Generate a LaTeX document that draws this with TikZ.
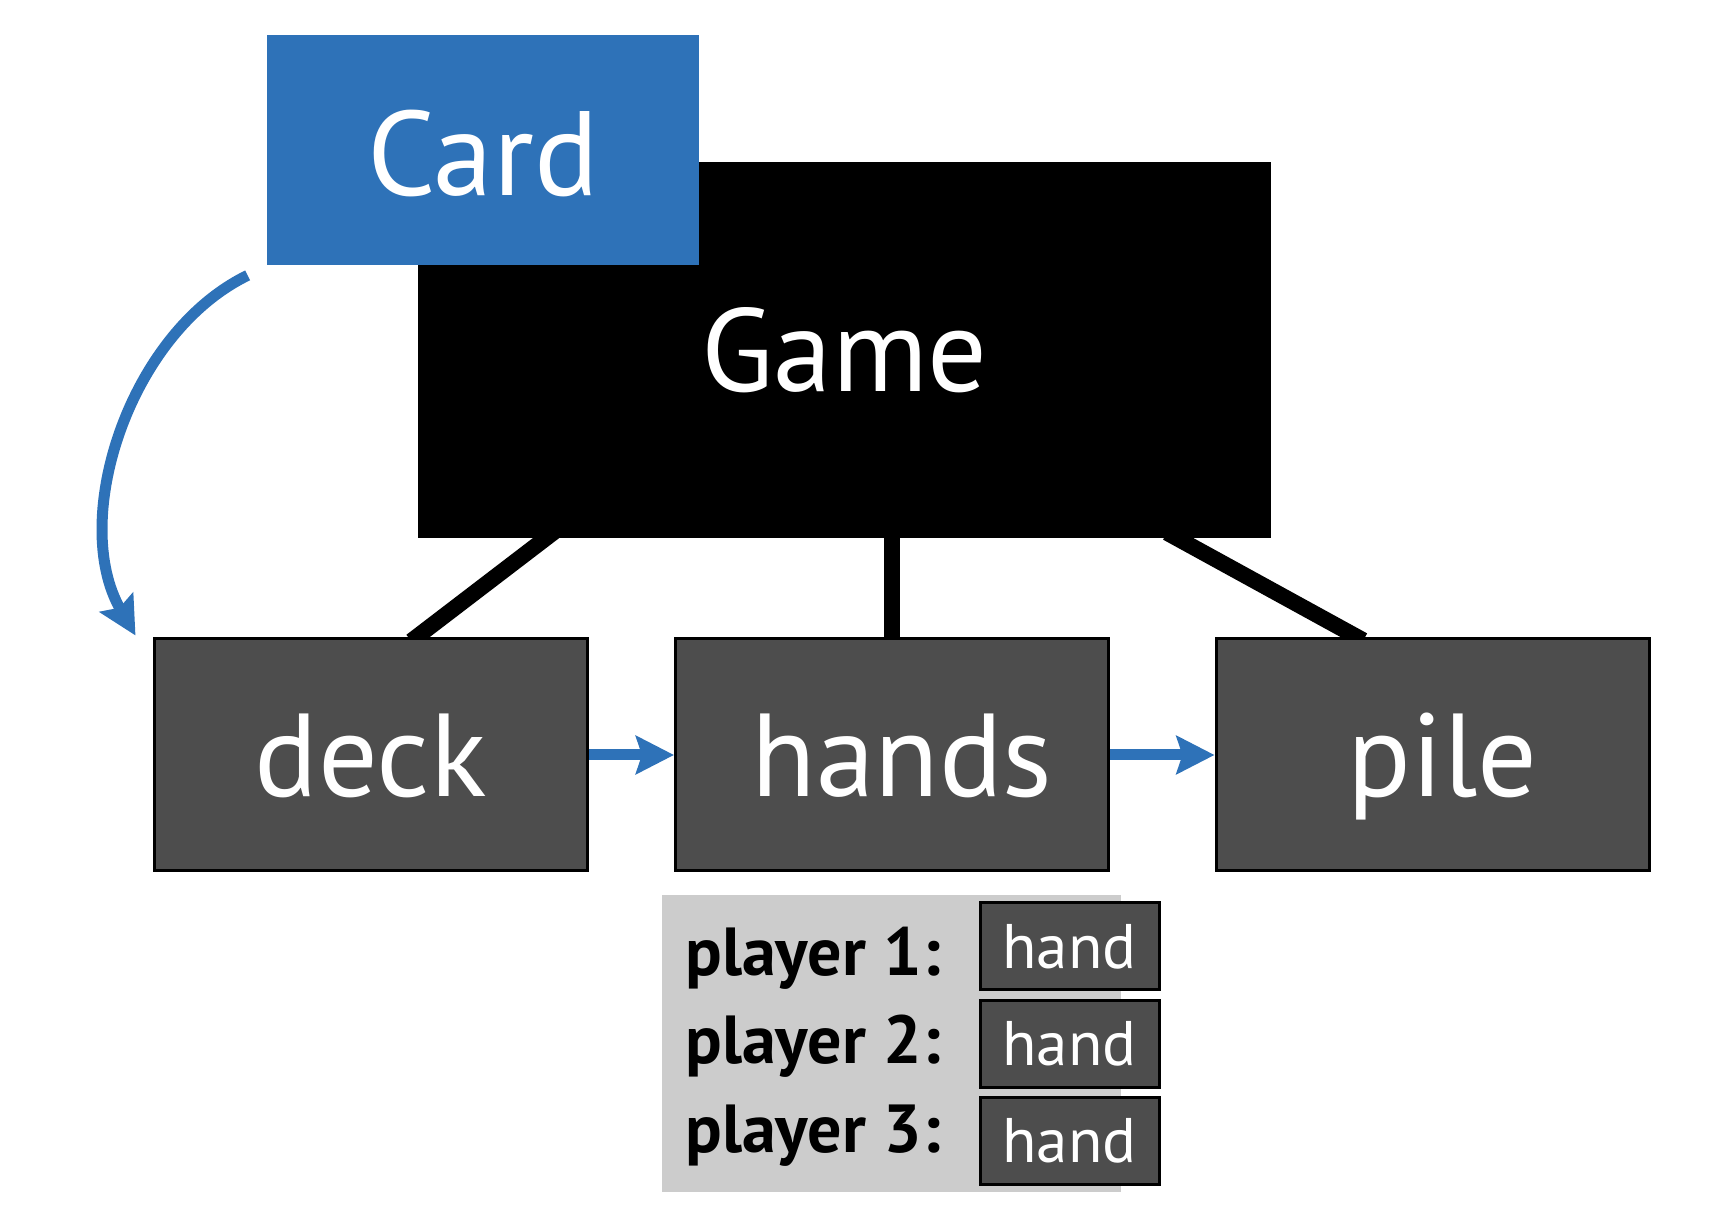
\documentclass[tikz,border=0pt]{standalone}
\usepackage{fontspec}
\setmainfont{PT Sans}
\usetikzlibrary{arrows.meta,calc,backgrounds}
\definecolor{cardblue}{RGB}{46,114,184}
\definecolor{boxgray}{RGB}{77,77,77}
\definecolor{rostergray}{RGB}{204,204,204}
\tikzset{
  field/.style={draw=black, line width=1.5pt, fill=boxgray, text=white, inner sep=0pt,
    minimum width=216.5pt, minimum height=116pt, text depth=0pt,
    font=\fontsize{59}{60}\selectfont},
  handbox/.style={draw=black, line width=1.5pt, fill=boxgray, text=white, inner sep=0pt,
    minimum width=89.5pt, minimum height=43.5pt, font=\fontsize{31.5}{33}\selectfont},
  player/.style={anchor=base west, inner sep=0pt, font=\bfseries\fontsize{34}{36}\selectfont},
  link/.style={line width=8pt, shorten <=-6pt, shorten >=-3pt},
  flow/.style={cardblue, line width=5.5pt, -{Stealth[length=19pt, width=19pt, inset=3pt]}}
}
\begin{document}
\begin{tikzpicture}[x=0.5pt, y=0.5pt]
\useasboundingbox (0,0) rectangle (1724,1216);
% classes
\node[fill=black, text=white, inner sep=0pt, minimum width=426.5pt, minimum height=188pt,
  font=\fontsize{59}{60}\selectfont] (game) at (844.5,866) {Game};
\node[fill=cardblue, text=white, inner sep=0pt, minimum width=216pt, minimum height=115pt,
  text height=46pt, font=\fontsize{60}{62}\selectfont] (card) at (483,1066) {Card};
% fields
\node[field] (deck) at (370.5,461) {deck};
\node[field] (hands) at (892,461) {\hspace{10pt}hands};
\node[field] (pile) at (1432.5,461) {\hspace{10pt}pile};
\begin{scope}[on background layer]
\draw[link] ($(game.south west)+(128,0)$) -- ($(deck.north)+(45.5,0)$);
\draw[link] (hands.north |- game.south) -- (hands.north);
\draw[link] ($(game.south east)+(-94,0)$) -- ($(pile.north)+(-74.5,0)$);
\end{scope}
% data flow
\draw[flow] ($(card.south west)+(-19,-10)$) to[out=206, in=120, looseness=0.9] ($(deck.north west)+(-17,2)$);
\draw[flow] (deck.east) -- (hands.west);
\draw[flow] (hands.east) -- (pile.west);
% hands
\node[fill=rostergray, inner sep=0pt, minimum width=229.5pt, minimum height=148.5pt] (roster) at (891.5,172.5) {};
\node[player] (p1) at (685,241) {player 1:};
\node[player] (p2) at (685,153) {player 2:};
\node[player] (p3) at (685,64) {player 3:};
\node[handbox] (h1) at (1069.5,269.5) {hand};
\node[handbox] (h2) at (1069.5,172) {hand};
\node[handbox] (h3) at (1069.5,75) {hand};
\end{tikzpicture}
\end{document}
